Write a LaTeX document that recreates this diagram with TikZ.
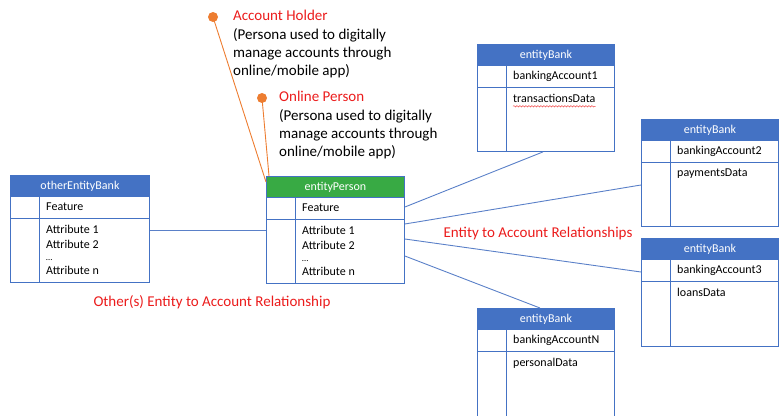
\documentclass[tikz,border=0pt]{standalone}
\usepackage{fontspec}
\usetikzlibrary{decorations.pathmorphing}
\setmainfont{Carlito}

\definecolor{hdrblue}{RGB}{68,114,196}
\definecolor{hdrgreen}{RGB}{56,170,68}
\definecolor{linkblue}{RGB}{90,128,200}
\definecolor{labelred}{RGB}{235,28,28}
\definecolor{calloutorange}{RGB}{237,125,49}

\tikzset{
  erframe/.style={draw=hdrblue, line width=0.9pt, rectangle, inner sep=0pt, anchor=north west},
  erhead/.style={draw=hdrblue, line width=0.9pt, rectangle, inner sep=0pt, anchor=north west,
    minimum height=21, text=white, font=\fontsize{12}{14}\selectfont},
  erline/.style={draw=hdrblue, line width=0.9pt},
  ertext/.style={inner sep=0pt, font=\fontsize{12}{14.5}\selectfont, align=left},
  link/.style={draw=linkblue, line width=0.9pt},
  callout/.style={draw=calloutorange, line width=0.9pt},
  dot/.style={circle, fill=calloutorange, inner sep=0pt, minimum size=10},
  redlabel/.style={text=labelred, inner sep=0pt, font=\fontsize{15}{18}\selectfont},
  note/.style={inner sep=0pt, anchor=north west, align=left, font=\fontsize{15}{18.4}\selectfont},
  squiggle/.style={draw=labelred!80, line width=0.5pt,
    decorate, decoration={snake, amplitude=0.7pt, segment length=3pt}},
}

% #1 name, #2 left, #3 top, #4 width, #5 bottom, #6 header colour,
% #7 title, #8 first row, #9 remaining rows
\newcommand{\erbox}[9]{%
  \node[erframe, minimum width=#4, minimum height={#5-#3}] (#1) at (#2,#3) {};
  \node[erhead, fill=#6, minimum width=#4] (#1-h) at (#1.north west) {#7};
  \draw[erline] ([yshift=-43]#1.north west) -- ([yshift=-43]#1.north east);
  \draw[erline] ([xshift=29,yshift=-21]#1.north west) -- ([xshift=29]#1.south west);
  \node[ertext, anchor=west] (#1-f) at ([xshift=36,yshift=-32]#1.north west) {#8};
  \node[ertext, anchor=north west] (#1-b) at ([xshift=36,yshift=-50]#1.north west) {#9};
}

\begin{document}
\begin{tikzpicture}[x=1pt, y=-1pt]
  \useasboundingbox (0,0) rectangle (779,415);
  \clip (0,0) rectangle (779,415);

  % entity tables
  \erbox{other}{10}{175}{139}{282}{hdrblue}{otherEntityBank}{Feature}%
    {Attribute 1\\Attribute 2\\[-2pt]{\fontsize{9}{10}\selectfont …}\\[-1pt]Attribute n}
  \erbox{person}{266}{176}{138}{283}{hdrgreen}{entityPerson}{Feature}%
    {Attribute 1\\Attribute 2\\[-2pt]{\fontsize{9}{10}\selectfont …}\\[-1pt]Attribute n}
  \erbox{bankA}{477}{44}{137}{151}{hdrblue}{entityBank}{bankingAccount1}{transactionsData}
  \erbox{bankB}{641}{119}{137}{226}{hdrblue}{entityBank}{bankingAccount2}{paymentsData}
  \erbox{bankC}{641}{238}{137}{346}{hdrblue}{entityBank}{bankingAccount3}{loansData}
  \erbox{bankN}{477}{308}{137}{430}{hdrblue}{entityBank}{bankingAccountN}{personalData}

  % spell-check mark under the transactions field
  \draw[squiggle] ([yshift=-3.5]bankA-b.south west) -- ([yshift=-3.5]bankA-b.south east);

  % relationships
  \draw[link] ([yshift=-55]other.north east) -- ([yshift=-54]person.north west);
  \draw[link] ([yshift=-31]person.north east) -- ([xshift=66]bankA.south west);
  \draw[link] ([yshift=-48]person.north east) -- ([yshift=-66]bankB.north west);
  \draw[link] ([yshift=-63]person.north east) -- ([yshift=-34]bankC.north west);
  \draw[link] ([yshift=-80]person.north east) -- ([xshift=63]bankN.north west);

  \node[redlabel] (lblOther) at (212,302) {Other(s) Entity to Account Relationship};
  \node[redlabel] (lblBank) at (538,233) {Entity to Account Relationships};

  % persona callouts
  \node[dot] (holderDot) at (213,17) {};
  \node[dot] (onlineDot) at (262,98) {};
  \draw[callout] (holderDot.center) -- ([yshift=-6]person.north west);
  \draw[callout] (onlineDot.center) -- ([xshift=3]person.north west);

  \node[note] (holderNote) at (233,10) {\textcolor{labelred}{Account Holder}\\(Persona used to digitally\\manage accounts through\\online/mobile app)};
  \node[note] (onlineNote) at (279,91) {\textcolor{labelred}{Online Person}\\(Persona used to digitally\\manage accounts through\\online/mobile app)};
\end{tikzpicture}
\end{document}
